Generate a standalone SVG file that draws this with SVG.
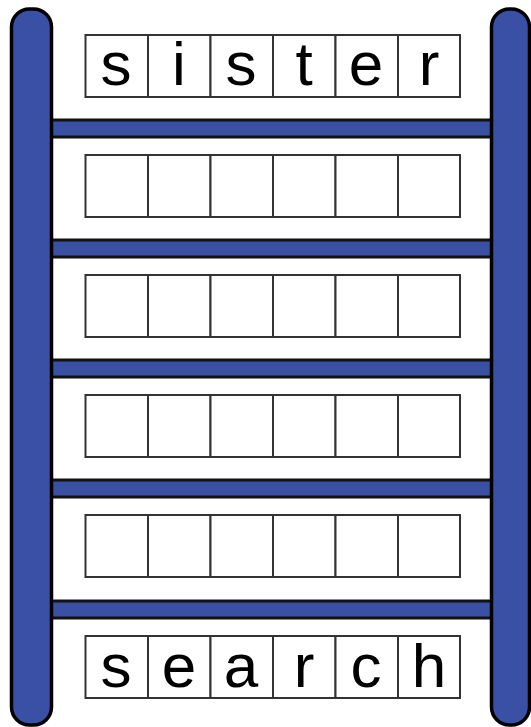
<svg xmlns="http://www.w3.org/2000/svg" width="531" height="727" viewBox="0 0 531 727">
<style>
.post{fill:#3a50a4;stroke:#000;stroke-width:3.5}
.rung{fill:#3a50a4;stroke:#111;stroke-width:3}
.cell{fill:#fff;stroke:#333;stroke-width:2}
.ltr{font-family:"Liberation Sans",Arial,sans-serif;font-size:62px;fill:#000;text-anchor:middle}
</style>
<rect width="531" height="727" fill="#fff"/>
<g id="connectors">
<rect class="rung" x="50" y="120" width="444" height="17"/>
<rect class="rung" x="50" y="240" width="444" height="17"/>
<rect class="rung" x="50" y="360" width="444" height="17"/>
<rect class="rung" x="50" y="480" width="444" height="17"/>
<rect class="rung" x="50" y="601" width="444" height="17"/>
</g>
<g id="post-left"><rect class="post" x="11.5" y="9" width="40" height="716" rx="18" ry="18"/></g>
<g id="post-right"><rect class="post" x="491.5" y="9" width="38" height="716" rx="18" ry="18"/></g>
<defs>
<g id="row">
<rect class="cell" x="85.5" y="0" width="62.5" height="62"/>
<rect class="cell" x="148" y="0" width="62.5" height="62"/>
<rect class="cell" x="210.5" y="0" width="62.5" height="62"/>
<rect class="cell" x="273" y="0" width="62.5" height="62"/>
<rect class="cell" x="335.5" y="0" width="62.5" height="62"/>
<rect class="cell" x="398" y="0" width="62" height="62"/>
</g>
</defs>
<g id="row1"><use href="#row" y="35"/>
<text class="ltr" x="116" y="85">s</text><text class="ltr" x="179" y="85">i</text><text class="ltr" x="241" y="85">s</text><text class="ltr" x="304" y="85">t</text><text class="ltr" x="366" y="85">e</text><text class="ltr" x="429" y="85">r</text></g>
<g id="row2"><use href="#row" y="155"/></g>
<g id="row3"><use href="#row" y="275"/></g>
<g id="row4"><use href="#row" y="395"/></g>
<g id="row5"><use href="#row" y="515"/></g>
<g id="row6"><use href="#row" y="636"/>
<text class="ltr" x="116" y="687">s</text><text class="ltr" x="179" y="687">e</text><text class="ltr" x="241" y="687">a</text><text class="ltr" x="304" y="687">r</text><text class="ltr" x="366" y="687">c</text><text class="ltr" x="429" y="687">h</text></g>
</svg>
